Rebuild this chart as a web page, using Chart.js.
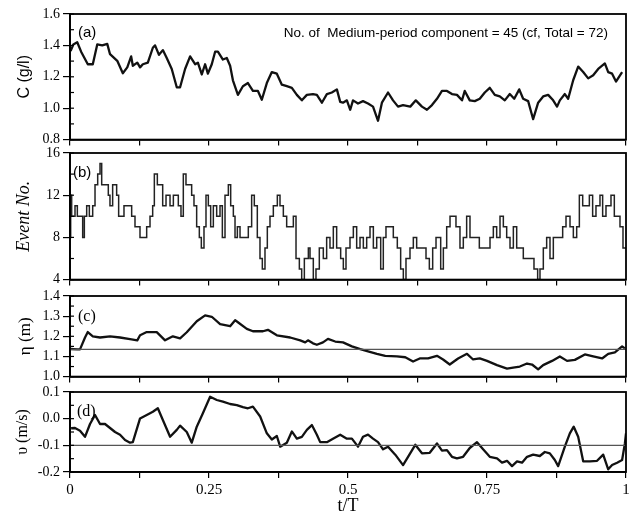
<!DOCTYPE html>
<html>
<head>
<meta charset="utf-8">
<script src="https://cdn.jsdelivr.net/npm/chart.js"></script>
<style>
  html, body { margin: 0; padding: 0; background: #fff; }
  #wrap { position: relative; width: 633px; height: 518px; }
  #wrap canvas { position: absolute; left: 0; }
</style>
</head>
<body>
<div id="wrap">
  <canvas id="chartA" width="633" height="151" style="top:0"></canvas>
  <canvas id="chartB" width="633" height="151" style="top:140px"></canvas>
  <canvas id="chartC" width="633" height="105" style="top:283px"></canvas>
  <canvas id="chartD" width="633" height="139" style="top:379px"></canvas>
</div>
<script>
// (a) concentration C (g/l)
const tA = [0.001, 0.006, 0.013, 0.020, 0.032, 0.041, 0.049, 0.058, 0.067, 0.072, 0.085, 0.095, 0.103, 0.110, 0.113, 0.121, 0.126, 0.131, 0.140, 0.149, 0.153, 0.160, 0.167, 0.174, 0.183, 0.192, 0.198, 0.207, 0.216, 0.225, 0.230, 0.237, 0.243, 0.248, 0.255, 0.261, 0.266, 0.275, 0.282, 0.288, 0.293, 0.302, 0.311, 0.320, 0.329, 0.338, 0.345, 0.354, 0.363, 0.372, 0.381, 0.390, 0.399, 0.408, 0.417, 0.426, 0.437, 0.444, 0.453, 0.462, 0.471, 0.480, 0.486, 0.491, 0.498, 0.504, 0.509, 0.518, 0.527, 0.536, 0.545, 0.554, 0.561, 0.572, 0.581, 0.590, 0.599, 0.612, 0.622, 0.633, 0.642, 0.651, 0.660, 0.669, 0.678, 0.687, 0.696, 0.705, 0.710, 0.719, 0.728, 0.737, 0.746, 0.755, 0.764, 0.773, 0.782, 0.791, 0.799, 0.808, 0.815, 0.824, 0.833, 0.842, 0.851, 0.860, 0.869, 0.876, 0.881, 0.890, 0.896, 0.905, 0.914, 0.923, 0.932, 0.941, 0.950, 0.962, 0.968, 0.975, 0.982, 0.993]
const concentration = [1.364, 1.406, 1.42, 1.36, 1.28, 1.28, 1.406, 1.40, 1.41, 1.344, 1.302, 1.223, 1.26, 1.33, 1.27, 1.29, 1.26, 1.28, 1.29, 1.385, 1.40, 1.34, 1.37, 1.32, 1.25, 1.133, 1.133, 1.25, 1.33, 1.28, 1.29, 1.215, 1.28, 1.22, 1.28, 1.36, 1.36, 1.31, 1.32, 1.27, 1.178, 1.085, 1.14, 1.16, 1.11, 1.11, 1.054, 1.16, 1.23, 1.22, 1.15, 1.14, 1.13, 1.085, 1.05, 1.085, 1.09, 1.085, 1.035, 1.09, 1.10, 1.12, 1.04, 1.035, 1.05, 0.99, 1.05, 1.03, 1.045, 1.03, 1.01, 0.92, 1.035, 1.10, 1.05, 1.01, 1.02, 1.01, 1.05, 1.01, 0.99, 1.02, 1.06, 1.11, 1.11, 1.09, 1.085, 1.05, 1.11, 1.05, 1.045, 1.06, 1.10, 1.13, 1.085, 1.075, 1.05, 1.09, 1.06, 1.12, 1.06, 1.045, 0.93, 1.035, 1.075, 1.085, 1.05, 1.01, 1.05, 1.09, 1.06, 1.178, 1.265, 1.23, 1.19, 1.21, 1.25, 1.285, 1.23, 1.22, 1.17, 1.23]

// (b) event number, step series
const tB = [0, 0.0012, 0.0030, 0.0090, 0.0132, 0.0228, 0.0258, 0.0300, 0.0348, 0.0408, 0.0450, 0.0498, 0.0540, 0.0570, 0.0689, 0.0719, 0.0767, 0.0839, 0.0875, 0.0971, 0.1109, 0.1169, 0.1259, 0.1379, 0.1439, 0.1487, 0.1517, 0.1571, 0.1667, 0.1727, 0.1799, 0.1859, 0.1948, 0.1996, 0.2038, 0.2086, 0.2188, 0.2230, 0.2278, 0.2326, 0.2362, 0.2410, 0.2446, 0.2488, 0.2530, 0.2578, 0.2638, 0.2698, 0.2740, 0.2788, 0.2848, 0.2890, 0.2938, 0.2968, 0.3010, 0.3058, 0.3207, 0.3267, 0.3315, 0.3369, 0.3417, 0.3459, 0.3507, 0.3549, 0.3597, 0.3657, 0.3729, 0.3777, 0.3837, 0.3897, 0.4017, 0.4065, 0.4125, 0.4167, 0.4215, 0.4287, 0.4317, 0.4376, 0.4424, 0.4484, 0.4556, 0.4616, 0.4676, 0.4736, 0.4796, 0.4868, 0.4916, 0.4964, 0.5036, 0.5096, 0.5156, 0.5216, 0.5276, 0.5336, 0.5396, 0.5456, 0.5516, 0.5588, 0.5635, 0.5683, 0.5815, 0.5887, 0.5947, 0.5995, 0.6043, 0.6115, 0.6175, 0.6235, 0.6403, 0.6463, 0.6523, 0.6583, 0.6667, 0.6715, 0.6775, 0.6835, 0.6942, 0.7014, 0.7074, 0.7134, 0.7194, 0.7362, 0.7554, 0.7614, 0.7674, 0.7734, 0.7794, 0.7854, 0.7914, 0.7974, 0.8034, 0.8153, 0.8345, 0.8411, 0.8453, 0.8513, 0.8573, 0.8633, 0.8693, 0.8861, 0.8921, 0.8993, 0.9053, 0.9113, 0.9161, 0.9221, 0.9341, 0.9400, 0.9460, 0.9532, 0.9580, 0.9640, 0.9730, 0.9790, 0.9892, 0.9946, 1.0]
const eventNo = [8, 12, 10, 11, 10, 8, 10, 11, 10, 11, 13, 14, 15, 13, 12, 11, 13, 12, 10, 11, 10, 9, 8, 9, 10, 11, 14, 13, 11, 12, 11, 12, 11, 10, 14, 13, 12, 11, 9, 8, 7, 9, 12, 11, 9, 11, 10, 11, 8, 12, 13, 11, 10, 8, 9, 8, 9, 12, 11, 8, 6, 5, 7, 9, 10, 11, 12, 11, 10, 9, 10, 6, 5, 4, 6, 7, 6, 4, 5, 7, 6, 8, 7, 9, 7, 6, 5, 7, 8, 9, 7, 8, 7, 8, 9, 7, 8, 5, 8, 9, 8, 7, 5, 4, 6, 7, 8, 7, 6, 5, 7, 8, 5, 7, 9, 10, 9, 7, 8, 10, 8, 7, 8, 9, 8, 10, 9, 8, 7, 9, 7, 6, 5, 4, 5, 7, 8, 6, 8, 9, 10, 9, 8, 9, 12, 11, 12, 10, 11, 12, 10, 11, 12, 10, 9, 7, 7]

// (c) water level eta (m)
const tC = [0.001, 0.013, 0.018, 0.027, 0.032, 0.041, 0.054, 0.072, 0.090, 0.108, 0.121, 0.126, 0.138, 0.156, 0.171, 0.185, 0.198, 0.210, 0.228, 0.243, 0.255, 0.270, 0.288, 0.297, 0.302, 0.318, 0.329, 0.347, 0.356, 0.372, 0.396, 0.414, 0.423, 0.428, 0.437, 0.444, 0.455, 0.464, 0.477, 0.491, 0.507, 0.522, 0.536, 0.552, 0.567, 0.588, 0.603, 0.617, 0.629, 0.644, 0.660, 0.671, 0.683, 0.698, 0.714, 0.725, 0.737, 0.750, 0.768, 0.786, 0.797, 0.809, 0.822, 0.831, 0.842, 0.851, 0.867, 0.881, 0.894, 0.908, 0.926, 0.941, 0.957, 0.968, 0.980, 0.993, 0.998]
const eta = [1.137, 1.135, 1.135, 1.194, 1.221, 1.20, 1.194, 1.20, 1.194, 1.186, 1.18, 1.205, 1.221, 1.221, 1.18, 1.20, 1.19, 1.22, 1.275, 1.304, 1.297, 1.26, 1.25, 1.28, 1.27, 1.237, 1.225, 1.225, 1.232, 1.205, 1.194, 1.18, 1.17, 1.18, 1.165, 1.158, 1.17, 1.187, 1.174, 1.17, 1.15, 1.136, 1.125, 1.113, 1.103, 1.10, 1.096, 1.075, 1.09, 1.09, 1.103, 1.085, 1.06, 1.09, 1.113, 1.085, 1.09, 1.078, 1.057, 1.04, 1.045, 1.05, 1.065, 1.06, 1.036, 1.057, 1.078, 1.10, 1.078, 1.083, 1.11, 1.10, 1.09, 1.113, 1.12, 1.15, 1.14]
const etaRef = 1.135

// (d) velocity v (m/s)
const tD = [0.002, 0.009, 0.018, 0.027, 0.036, 0.045, 0.054, 0.063, 0.072, 0.081, 0.090, 0.099, 0.108, 0.113, 0.126, 0.138, 0.149, 0.158, 0.167, 0.180, 0.192, 0.198, 0.210, 0.219, 0.228, 0.239, 0.252, 0.264, 0.275, 0.288, 0.300, 0.311, 0.320, 0.329, 0.342, 0.354, 0.363, 0.372, 0.378, 0.390, 0.399, 0.408, 0.417, 0.426, 0.435, 0.444, 0.450, 0.462, 0.473, 0.486, 0.498, 0.507, 0.518, 0.527, 0.536, 0.545, 0.554, 0.563, 0.572, 0.585, 0.599, 0.608, 0.621, 0.633, 0.647, 0.660, 0.669, 0.678, 0.687, 0.696, 0.707, 0.719, 0.732, 0.743, 0.755, 0.768, 0.777, 0.786, 0.795, 0.804, 0.813, 0.822, 0.833, 0.845, 0.854, 0.863, 0.872, 0.878, 0.890, 0.899, 0.906, 0.914, 0.923, 0.935, 0.948, 0.959, 0.968, 0.975, 0.984, 0.993, 0.998, 1.0]
const velocity = [-0.036, -0.035, -0.045, -0.068, -0.02, 0.014, -0.02, -0.02, -0.035, -0.05, -0.06, -0.08, -0.09, -0.088, 0.001, 0.014, 0.026, 0.039, -0.005, -0.068, -0.042, -0.026, -0.05, -0.09, -0.03, 0.02, 0.082, 0.07, 0.064, 0.055, 0.051, 0.043, 0.039, 0.045, 0.008, -0.055, -0.078, -0.065, -0.105, -0.09, -0.048, -0.075, -0.068, -0.042, -0.024, -0.06, -0.088, -0.088, -0.075, -0.06, -0.075, -0.075, -0.105, -0.068, -0.06, -0.075, -0.088, -0.115, -0.105, -0.135, -0.174, -0.143, -0.098, -0.13, -0.128, -0.093, -0.12, -0.118, -0.143, -0.149, -0.143, -0.11, -0.088, -0.115, -0.143, -0.149, -0.165, -0.158, -0.178, -0.16, -0.165, -0.143, -0.135, -0.14, -0.125, -0.13, -0.155, -0.178, -0.105, -0.055, -0.03, -0.068, -0.16, -0.16, -0.158, -0.135, -0.19, -0.174, -0.165, -0.155, -0.093, -0.055]
const velocityRef = -0.1

const xTickLabels = ['0', '0.25', '0.5', '0.75', '1']

const toPoints = (xs, ys) => xs.map((x, i) => ({ x, y: ys[i] }))

// frame, inward minor ticks, panel letter and note
const panelDecor = {
  id: 'panelDecor',
  afterDraw(chart, args, opts) {
    const { ctx, chartArea: a } = chart
    const y = chart.scales.y
    ctx.save()
    ctx.strokeStyle = '#000'
    ctx.lineWidth = 1.8
    ctx.strokeRect(a.left, a.top, a.right - a.left, a.bottom - a.top)
    ctx.lineWidth = 1.2
    for (let v = y.min; v <= y.max + 1e-9; v += opts.minor) {
      const py = y.getPixelForValue(v)
      ctx.beginPath()
      ctx.moveTo(a.left, py)
      ctx.lineTo(a.left + 4, py)
      ctx.stroke()
    }
    ctx.fillStyle = '#000'
    ctx.textBaseline = 'middle'
    ctx.textAlign = 'left'
    ctx.font = opts.letterFont
    ctx.fillText(opts.letter, a.left + opts.letterX, a.top + opts.letterY)
    if (opts.note) {
      ctx.font = '13.5px "Liberation Sans", Arial, sans-serif'
      ctx.textAlign = 'right'
      ctx.fillText(opts.note, a.right - 18, a.top + 19)
    }
    ctx.restore()
  }
}

function makePanel(canvas, cfg) {
  return new Chart(canvas, {
    type: 'line',
    data: { datasets: cfg.datasets },
    plugins: [panelDecor],
    options: {
      responsive: false,
      animation: false,
      layout: { padding: { top: cfg.padTop, right: 7, bottom: 0, left: 0 } },
      elements: { point: { radius: 0 }, line: { tension: 0 } },
      plugins: {
        legend: { display: false },
        tooltip: { enabled: false },
        panelDecor: cfg.decor
      },
      scales: {
        x: {
          type: 'linear',
          min: 0,
          max: 1,
          afterFit(scale) { scale.height = cfg.xHeight },
          ticks: {
            display: !!cfg.xLabels,
            stepSize: 0.125,
            autoSkip: false,
            maxRotation: 0,
            padding: 3,
            color: '#000',
            font: { family: '"Liberation Serif", serif', size: 15 },
            callback: v => {
              const q = v * 4
              return Math.abs(q - Math.round(q)) < 1e-6 ? xTickLabels[Math.round(q)] : ''
            }
          },
          grid: { drawOnChartArea: false, drawTicks: true, tickLength: 6, color: '#000', lineWidth: 1.2 },
          border: { display: true, color: '#000', width: 1.8 },
          title: {
            display: !!cfg.xLabels,
            text: 't/T',
            color: '#000',
            font: { family: '"Liberation Serif", serif', size: 18 },
            padding: { top: 0, bottom: 1 }
          }
        },
        y: {
          min: cfg.yMin,
          max: cfg.yMax,
          afterFit(scale) { scale.width = 70 },
          ticks: {
            stepSize: cfg.yStep,
            padding: 3,
            color: '#000',
            font: { family: '"Liberation Serif", serif', size: 14 },
            callback: cfg.yFormat
          },
          grid: { drawOnChartArea: false, drawTicks: true, tickLength: 7, color: '#000', lineWidth: 1.2 },
          border: { display: true, color: '#000', width: 1.8 },
          title: {
            display: true,
            text: cfg.yTitle,
            color: '#000',
            font: cfg.yTitleFont,
            padding: { top: cfg.yTitlePad, bottom: 0 }
          }
        }
      }
    }
  })
}

const curve = (points, width) => ({
  data: points,
  borderColor: '#111',
  borderWidth: width,
  borderJoinStyle: 'round',
  fill: false
})

makePanel(document.getElementById('chartA'), {
  padTop: 14,
  xHeight: 10,
  yMin: 0.8, yMax: 1.6, yStep: 0.2,
  yFormat: v => v.toFixed(1),
  yTitle: 'C (g/l)',
  yTitleFont: { family: '"Liberation Sans", Arial, sans-serif', size: 16 },
  yTitlePad: 15,
  datasets: [curve(toPoints(tA, concentration), 2.3)],
  decor: {
    minor: 0.1, letter: '(a)', letterX: 8, letterY: 19,
    letterFont: '15px "Liberation Sans", Arial, sans-serif',
    note: 'No. of  Medium-period component = 45 (cf, Total = 72)'
  }
})

makePanel(document.getElementById('chartB'), {
  padTop: 13,
  xHeight: 10,
  yMin: 4, yMax: 16, yStep: 4,
  yFormat: v => String(v),
  yTitle: 'Event No.',
  yTitleFont: { family: '"Liberation Serif", serif', size: 18, style: 'italic' },
  yTitlePad: 13,
  datasets: [{
    data: toPoints(tB, eventNo),
    stepped: 'before',
    borderColor: '#222',
    borderWidth: 1.5,
    fill: false
  }],
  decor: {
    minor: 2, letter: '(b)', letterX: 3, letterY: 20,
    letterFont: '15px "Liberation Sans", Arial, sans-serif'
  }
})

makePanel(document.getElementById('chartC'), {
  padTop: 13,
  xHeight: 10,
  yMin: 1.0, yMax: 1.4, yStep: 0.1,
  yFormat: v => v.toFixed(1),
  yTitle: 'η (m)',
  yTitleFont: { family: '"Liberation Serif", serif', size: 17 },
  yTitlePad: 15,
  datasets: [
    { data: toPoints([0, 1], [etaRef, etaRef]), borderColor: '#555', borderWidth: 1.2, fill: false },
    curve(toPoints(tC, eta), 2.3)
  ],
  decor: {
    minor: 0.05, letter: '(c)', letterX: 8, letterY: 21,
    letterFont: '16px "Liberation Serif", serif'
  }
})

makePanel(document.getElementById('chartD'), {
  padTop: 13,
  xHeight: 46,
  xLabels: true,
  yMin: -0.2, yMax: 0.1, yStep: 0.1,
  yFormat: v => v.toFixed(1),
  yTitle: 'υ (m/s)',
  yTitleFont: { family: '"Liberation Serif", serif', size: 16 },
  yTitlePad: 13,
  datasets: [
    { data: toPoints([0, 1], [velocityRef, velocityRef]), borderColor: '#555', borderWidth: 1.2, fill: false },
    curve(toPoints(tD, velocity), 2.3)
  ],
  decor: {
    minor: 0.05, letter: '(d)', letterX: 7, letterY: 20,
    letterFont: '16px "Liberation Serif", serif'
  }
})
</script>
</body>
</html>
